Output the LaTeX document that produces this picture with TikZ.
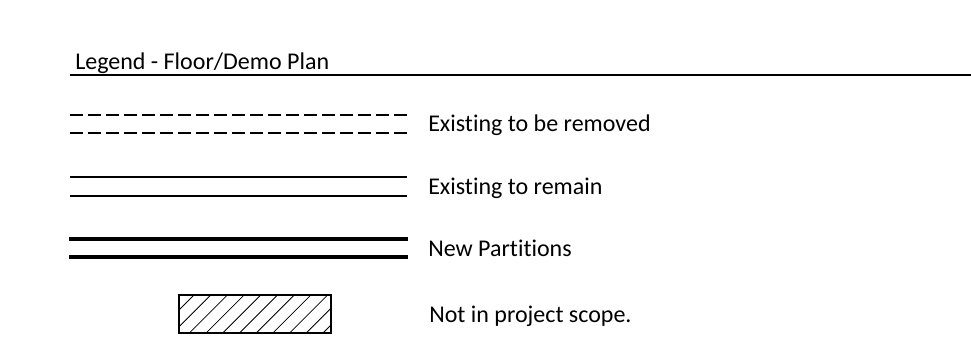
\documentclass[tikz,border=0pt]{standalone}
\usepackage{fontspec}
\setmainfont{Carlito}[Ligatures=NoCommon]
\begin{document}
\begin{tikzpicture}[x=0.75pt,y=-0.75pt,
  lbl/.style={anchor=base west,inner sep=0pt,font=\fontsize{18}{20}\selectfont},
  dashline/.style={line width=1.5pt*0.75, dash pattern=on 9.75pt off 3.75pt},
  thinline/.style={line width=0.8pt},
  thickline/.style={line width=2.3pt},
  hatchline/.style={line width=0.6pt}]
\useasboundingbox[fill=white] (0,0) rectangle (971,347);
% header
\node[lbl] (title) at (75,69) {Legend - Floor/Demo Plan};
\coordinate (hl) at (70,75);
\coordinate (hr) at (971,75);
\draw[line width=1.5pt] (hl) -- (hr);
% dashed lines
\coordinate (d1a) at (70,115); \coordinate (d1b) at (408,115);
\coordinate (d2a) at (70,133); \coordinate (d2b) at (408,133);
\draw[dashline] (d1a) -- (d1b);
\draw[dashline] (d2a) -- (d2b);
\node[lbl] (t1) at (428,131.5) {Existing to be removed};
% thin lines
\coordinate (e1a) at (70,177); \coordinate (e1b) at (407,177);
\coordinate (e2a) at (70,196); \coordinate (e2b) at (407,196);
\draw[thinline] (e1a) -- (e1b);
\draw[thinline] (e2a) -- (e2b);
\node[lbl] (t2) at (428,194) {Existing to remain};
% thick lines
\coordinate (n1a) at (69,239); \coordinate (n1b) at (408,239);
\coordinate (n2a) at (69,257); \coordinate (n2b) at (408,257);
\draw[thickline] (n1a) -- (n1b);
\draw[thickline] (n2a) -- (n2b);
\node[lbl] (t3) at (428,256) {New Partitions};
% hatched box
\begin{scope}
\clip (179,295) rectangle (331,333);
\foreach \k in {-2,...,10} {
  \draw[hatchline] ({194+\k*16.7+40},{295-40}) -- ({194+\k*16.7-60},{295+60});
}
\end{scope}
\draw[line width=1.2pt] (179,295) rectangle (331,333);
\node[lbl] (t4) at (429,322) {Not in project scope.};
\end{tikzpicture}
\end{document}
